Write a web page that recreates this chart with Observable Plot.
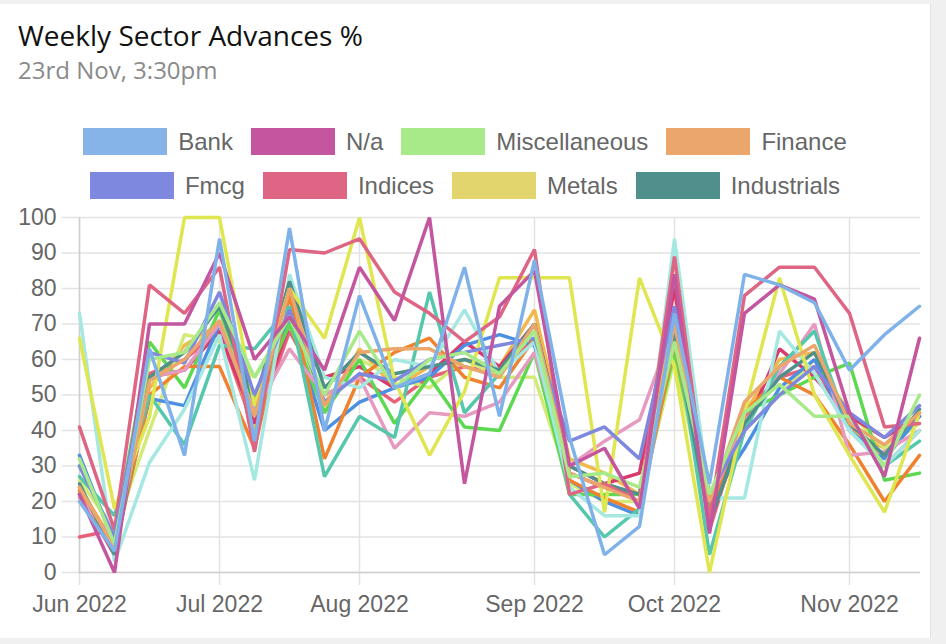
<!DOCTYPE html>
<html>
<head>
<meta charset="utf-8">
<script src="https://cdn.jsdelivr.net/npm/d3@7"></script>
<script src="https://cdn.jsdelivr.net/npm/@observablehq/plot@0.6"></script>
<style>
  html, body { margin: 0; padding: 0; }
  body { width: 946px; height: 644px; background: #f0f0f0; position: relative; overflow: hidden; }
  #card { position: absolute; left: 0; top: 4px; width: 930px; height: 634px; background: #fff; border-right: 1px solid #e2e2e2; }
  #title { position: absolute; left: 18px; top: 12px; font: 28px "Open Sans", sans-serif; color: #111; white-space: nowrap; }
  #subtitle { position: absolute; left: 18px; top: 49px; font: 24px "Open Sans", sans-serif; color: #8a8a8a; white-space: nowrap; }
  #legend { position: absolute; left: 0; top: 124px; width: 930px; }
  .row { display: flex; justify-content: center; gap: 18px; height: 27px; margin-bottom: 17px; }
  .item { display: flex; align-items: center; gap: 11px; font: 24px "Liberation Sans", Arial, sans-serif; color: #666; }
  .sw { width: 84px; height: 27px; }
  #chart { position: absolute; left: 0; top: 200px; width: 946px; }
  #chart svg { max-width: none !important; }
</style>
</head>
<body>
<div id="card">
  <div id="title">Weekly Sector Advances %</div>
  <div id="subtitle">23rd Nov, 3:30pm</div>
  <div id="legend"></div>
</div>
<div id="chart"></div>
<script>
// Weekly dates (Mondays)
const dates = ["2022-06-06","2022-06-13","2022-06-20","2022-06-27","2022-07-04","2022-07-11","2022-07-18","2022-07-25",
  "2022-08-01","2022-08-08","2022-08-15","2022-08-22","2022-08-29","2022-09-05","2022-09-12","2022-09-19","2022-09-26",
  "2022-10-03","2022-10-10","2022-10-17","2022-10-24","2022-10-31","2022-11-07","2022-11-14","2022-11-21"];
const monthTicks = ["2022-06-06","2022-07-04","2022-08-01","2022-09-05","2022-10-03","2022-11-07"];
const yTicks = [0,10,20,30,40,50,60,70,80,90,100];

const seriesNames = ["Bank","N/a","Miscellaneous","Finance","Fmcg","Indices","Metals","Industrials",
  "Series 9","Series 10","Series 11","Series 12","Series 13","Series 14","Series 15","Series 16","Series 17","Series 18"];

const bank          = [20, 6, 63, 33, 94, 37, 97, 40, 78, 52, 56, 86, 44, 88, 38, 5, 13, 73, 25, 84, 81, 76, 57, 67, 75];
const na            = [22, 0, 70, 70, 90, 60, 72, 57, 86, 71, 100, 25, 75, 85, 30, 35, 18, 84, 11, 73, 81, 77, 45, 27, 66];
const miscellaneous = [32, 8, 60, 62, 76, 55, 72, 50, 68, 52, 60, 62, 56, 68, 27, 28, 24, 65, 22, 45, 53, 44, 44, 30, 50];
const finance       = [24, 7, 54, 60, 71, 44, 80, 47, 62, 63, 63, 58, 55, 70, 28, 24, 20, 70, 20, 48, 58, 64, 42, 36, 45];
const fmcg          = [30, 10, 62, 59, 79, 50, 74, 48, 56, 54, 60, 62, 64, 66, 37, 41, 32, 75, 22, 40, 50, 58, 45, 38, 47];
const indices       = [41, 12, 81, 73, 86, 34, 91, 90, 94, 79, 73, 65, 72, 91, 22, 25, 20, 89, 15, 78, 86, 86, 73, 41, 42];
const metals        = [66, 18, 44, 100, 100, 47, 80, 66, 100, 54, 33, 51, 83, 83, 83, 17, 83, 58, 0, 45, 83, 50, 33, 17, 45];
const industrials   = [25, 5, 55, 62, 75, 48, 82, 52, 62, 56, 58, 60, 57, 70, 30, 25, 22, 68, 14, 42, 55, 62, 42, 33, 46];
const series9       = [73, 3, 31, 46, 67, 26, 84, 55, 52, 60, 58, 74, 56, 65, 24, 16, 16, 94, 21, 21, 68, 56, 40, 30, 40];
const series10      = [27, 16, 50, 36, 64, 63, 75, 27, 44, 38, 79, 45, 56, 70, 22, 10, 18, 70, 5, 40, 58, 68, 40, 30, 37];
const series11      = [21, 9, 55, 57, 70, 45, 63, 50, 55, 35, 45, 44, 48, 62, 30, 37, 43, 70, 20, 42, 56, 70, 33, 34, 40];
const series12      = [23, 6, 50, 58, 58, 35, 78, 32, 55, 62, 66, 55, 52, 66, 26, 21, 17, 65, 16, 45, 55, 50, 36, 20, 33];
const series13      = [30, 10, 65, 52, 74, 47, 70, 45, 60, 42, 55, 41, 40, 62, 22, 22, 22, 62, 18, 45, 50, 55, 59, 26, 28];
const series14      = [33, 8, 49, 47, 70, 45, 72, 40, 48, 52, 55, 64, 67, 64, 26, 20, 16, 70, 20, 35, 52, 60, 40, 32, 44];
const series15      = [22, 5, 55, 57, 68, 42, 70, 55, 58, 52, 56, 65, 58, 70, 30, 25, 28, 80, 15, 40, 63, 55, 44, 38, 44];
const series16      = [26, 12, 40, 67, 65, 55, 70, 48, 60, 55, 52, 60, 55, 55, 25, 20, 20, 60, 15, 40, 50, 60, 45, 35, 42];
const series17      = [24, 8, 52, 64, 70, 40, 79, 45, 63, 52, 58, 60, 58, 74, 32, 28, 22, 72, 20, 45, 60, 62, 40, 35, 44];
const series18      = [10, 12, 56, 60, 68, 40, 68, 50, 55, 48, 55, 58, 56, 66, 28, 24, 22, 75, 12, 44, 55, 58, 42, 30, 40];

const seriesValues = [bank, na, miscellaneous, finance, fmcg, indices, metals, industrials,
  series9, series10, series11, series12, series13, series14, series15, series16, series17, series18];

const lineColors = ["#80b2ea","#c4559f","#a8e98a","#eaa66b","#7e88de","#de6583","#e0e64f","#4f908c",
  "#a5e8e2","#55c7ad","#e69ac0","#f0822f","#5dd951","#4c8fe3","#d83a6b","#d2ea76","#f2b84b","#e8607a"];
const legendColors = ["#86b4e8","#c4559f","#a8e98a","#eaa66b","#7e88de","#de6583","#e3d56d","#4f908c"];

// Legend (first two rows only, as in the reference)
const legendRows = [[0,1,2,3],[4,5,6,7]];
const legend = document.getElementById("legend");
for (const r of legendRows) {
  const row = document.createElement("div");
  row.className = "row";
  for (const i of r) {
    const it = document.createElement("div");
    it.className = "item";
    it.innerHTML = `<div class="sw" style="background:${legendColors[i]}"></div><span>${seriesNames[i]}</span>`;
    row.appendChild(it);
  }
  legend.appendChild(row);
}

const rows = seriesNames.flatMap((name, i) =>
  dates.map((d, j) => ({series: name, order: i, date: d, value: seriesValues[i][j]})));
// draw last series first so first series are on top
const drawRows = rows.slice().sort((a, b) => b.order - a.order);

const fmt = d3.utcFormat("%b %Y");
const grid = "#e3e3e3";

const chart = Plot.plot({
  width: 946,
  height: 440,
  marginLeft: 78,
  marginRight: 26,
  marginTop: 17,
  marginBottom: 68,
  style: {fontFamily: "'Liberation Sans', Arial, sans-serif", fontSize: "23px", background: "transparent", overflow: "visible", maxWidth: "none"},
  x: {type: "point", domain: dates, padding: 0},
  y: {domain: [0, 100]},
  color: {domain: seriesNames, range: lineColors},
  marks: [
    Plot.gridY(yTicks, {stroke: grid, strokeOpacity: 1, strokeWidth: 1.5}),
    Plot.gridX(monthTicks, {stroke: grid, strokeOpacity: 1, strokeWidth: 1.5}),
    Plot.axisY(yTicks, {tickSize: 16, tickPadding: 6, stroke: grid, strokeOpacity: 1, strokeWidth: 1.5, fill: "#666", label: null, fontSize: 23}),
    Plot.axisX(monthTicks, {tickSize: 13, tickPadding: 10, stroke: grid, strokeOpacity: 1, strokeWidth: 1.5, fill: "#666", label: null, fontSize: 23,
      tickFormat: d => fmt(new Date(d))}),
    Plot.ruleY([0], {stroke: "#cfcfcf", strokeWidth: 1.5}),
    Plot.ruleX([dates[0]], {stroke: "#cfcfcf", strokeWidth: 1.5}),
    Plot.line(drawRows, {x: "date", y: "value", z: "series", stroke: "series", strokeWidth: 3.5, strokeLinejoin: "miter", sort: null})
  ]
});
document.getElementById("chart").appendChild(chart);
</script>
</body>
</html>
